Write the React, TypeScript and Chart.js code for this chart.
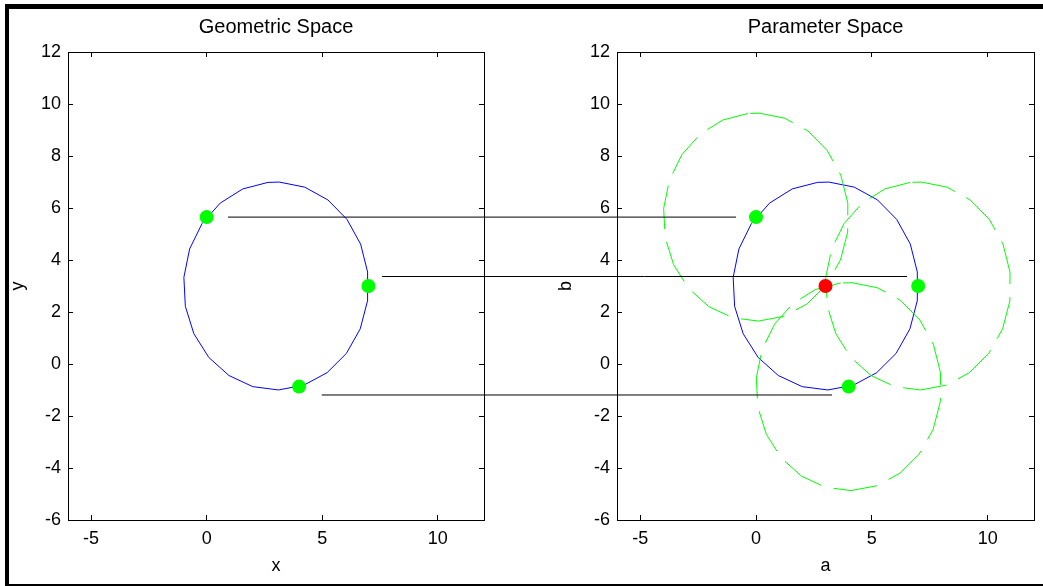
import React, { useEffect, useRef } from "react";
import { Chart, registerables } from "chart.js";

Chart.register(...registerables);

// ---- data ----
const axisMin = -6;
const axisMax = 12;
const xTickValues = [-5, 0, 5, 10];
const yTickValues = [-6, -4, -2, 0, 2, 4, 6, 8, 10, 12];

const circleRadius = 4;
const circleCenterX = 3;
const circleCenterY = 3;

const edgePointsX = [0, 7, 4];
const edgePointsY = [5.65, 3, -0.87];

// polygon used to draw each circle (start angle, angular step, in radians)
const polygonStartAngle = 1.658;
const polygonStep = 0.28;

// connecting lines: y value, start x (geometric space), end x (parameter space)
const linkY = [5.65, 3.365, -1.192];
const linkFromX = [0.92, 7.59, 4.98];
const linkToX = [-0.86, 6.52, 3.28];

// ---- layout / style ----
const W = 1043;
const H = 586;
const LEFT1 = 0;
const WIDTH1 = 500;
const LEFT2 = 549;
const WIDTH2 = W - LEFT2;
const FONT_FAMILY = "'Liberation Sans', Arial, Helvetica, sans-serif";

function circlePolygon(cx: number, cy: number, r: number) {
  const pts: { x: number; y: number }[] = [];
  for (let t = 0; t < 2 * Math.PI; t += polygonStep) {
    const a = polygonStartAngle + t;
    pts.push({ x: cx + r * Math.cos(a), y: cy + r * Math.sin(a) });
  }
  pts.push(pts[0]);
  return pts;
}

function edgePoints() {
  return edgePointsX.map((x, i) => ({ x, y: edgePointsY[i] }));
}

function blueCircle() {
  return {
    data: circlePolygon(circleCenterX, circleCenterY, circleRadius),
    showLine: true,
    borderColor: "#0000ff",
    borderWidth: 1,
    pointRadius: 0,
    tension: 0,
    fill: false,
    order: 3,
  };
}

function greenDots() {
  return {
    data: edgePoints(),
    showLine: false,
    pointRadius: 7,
    pointBackgroundColor: "#00ff00",
    pointBorderColor: "#00ff00",
    pointBorderWidth: 0,
    order: 0,
  };
}

function geoDatasets() {
  return [blueCircle(), greenDots()];
}

function paramDatasets() {
  const dashed = edgePointsX.map((x, i) => ({
    data: circlePolygon(x, edgePointsY[i], circleRadius),
    showLine: true,
    borderColor: "#00ff00",
    borderWidth: 1,
    borderDash: [44, 13],
    pointRadius: 0,
    tension: 0,
    fill: false,
    order: 2,
  }));
  const red = {
    data: [{ x: circleCenterX, y: circleCenterY }],
    showLine: false,
    pointRadius: 7,
    pointBackgroundColor: "#ff0000",
    pointBorderColor: "#ff0000",
    pointBorderWidth: 0,
    order: 0,
  };
  return [blueCircle(), ...dashed, greenDots(), red];
}

function makeConfig(
  datasets: any[],
  title: string,
  xTitle: string,
  yTitle: string,
  padRight: number,
  yTitlePad: number
): any {
  const tickFont = { family: FONT_FAMILY, size: 18 };
  const grid = {
    drawOnChartArea: false,
    drawTicks: true,
    tickLength: -5,
    color: "#000",
    lineWidth: 1,
  };
  const border = { display: true, color: "#000", width: 1 };
  const setX = (s: any) => {
    s.ticks = xTickValues.map((v) => ({ value: v }));
  };
  const setY = (s: any) => {
    s.ticks = yTickValues.map((v) => ({ value: v }));
  };
  return {
    type: "scatter",
    data: { datasets },
    options: {
      animation: false,
      responsive: false,
      events: [],
      layout: { padding: { left: 0, right: padRight, top: 0, bottom: 0 } },
      plugins: {
        legend: { display: false },
        tooltip: { enabled: false },
        title: {
          display: true,
          text: title,
          color: "#000",
          fullSize: false,
          font: { family: FONT_FAMILY, size: 20, weight: "normal" },
          padding: { top: 15, bottom: 13 },
        },
      },
      scales: {
        x: {
          type: "linear",
          position: "bottom",
          min: axisMin,
          max: axisMax,
          grid,
          border,
          afterBuildTicks: setX,
          afterFit: (s: any) => {
            s.height = 66;
          },
          ticks: {
            color: "#000",
            font: tickFont,
            padding: 13,
            maxRotation: 0,
            autoSkip: false,
          },
          title: {
            display: true,
            text: xTitle,
            color: "#000",
            font: tickFont,
            padding: { top: 0, bottom: 9 },
          },
        },
        y: {
          type: "linear",
          position: "left",
          min: axisMin,
          max: axisMax,
          grid,
          border,
          afterBuildTicks: setY,
          afterFit: (s: any) => {
            s.width = 68;
          },
          ticks: {
            color: "#000",
            font: tickFont,
            padding: 12,
            autoSkip: false,
          },
          title: {
            display: true,
            text: yTitle,
            color: "#000",
            font: tickFont,
            padding: { top: yTitlePad, bottom: 0 },
          },
        },
        x2: {
          type: "linear",
          axis: "x",
          position: "top",
          min: axisMin,
          max: axisMax,
          grid,
          border,
          afterBuildTicks: setX,
          afterFit: (s: any) => {
            s.height = 0;
          },
          ticks: { display: false },
        },
        y2: {
          type: "linear",
          axis: "y",
          position: "right",
          min: axisMin,
          max: axisMax,
          grid,
          border,
          afterBuildTicks: setY,
          afterFit: (s: any) => {
            s.width = 0;
          },
          ticks: { display: false },
        },
      },
    },
  };
}

export default function App() {
  const c1 = useRef<HTMLCanvasElement>(null);
  const c2 = useRef<HTMLCanvasElement>(null);
  const ov = useRef<HTMLCanvasElement>(null);

  useEffect(() => {
    document.body.style.margin = "0";
    const left = new Chart(
      c1.current!,
      makeConfig(geoDatasets(), "Geometric Space", "x", "y", WIDTH1 - 484, 7)
    );
    const right = new Chart(
      c2.current!,
      makeConfig(paramDatasets(), "Parameter Space", "a", "b", 9, 6)
    );

    const ctx = ov.current!.getContext("2d")!;
    ctx.clearRect(0, 0, W, H);
    ctx.strokeStyle = "#000";
    ctx.lineWidth = 1;
    linkY.forEach((yv, i) => {
      const y = left.scales.y.getPixelForValue(yv);
      const x1 = LEFT1 + left.scales.x.getPixelForValue(linkFromX[i]);
      const x2 = LEFT2 + right.scales.x.getPixelForValue(linkToX[i]);
      ctx.beginPath();
      ctx.moveTo(x1, y);
      ctx.lineTo(x2, y);
      ctx.stroke();
    });

    return () => {
      left.destroy();
      right.destroy();
    };
  }, []);

  const abs = (l: number, t: number, w: number, h: number): React.CSSProperties => ({
    position: "absolute",
    left: l,
    top: t,
    width: w,
    height: h,
  });

  return (
    <div style={{ position: "relative", width: W, height: H, background: "#fff", overflow: "hidden" }}>
      <div style={{ ...abs(5, 4, W - 5, 5), background: "#000" }} />
      <div style={{ ...abs(5, 4, 4, H - 4), background: "#000" }} />
      <div style={{ ...abs(5, 584, W - 5, 2), background: "#000" }} />
      <canvas ref={c1} width={WIDTH1} height={H} style={{ ...abs(LEFT1, 0, WIDTH1, H) }} />
      <canvas ref={c2} width={WIDTH2} height={H} style={{ ...abs(LEFT2, 0, WIDTH2, H) }} />
      <canvas ref={ov} width={W} height={H} style={{ ...abs(0, 0, W, H), pointerEvents: "none" }} />
    </div>
  );
}
